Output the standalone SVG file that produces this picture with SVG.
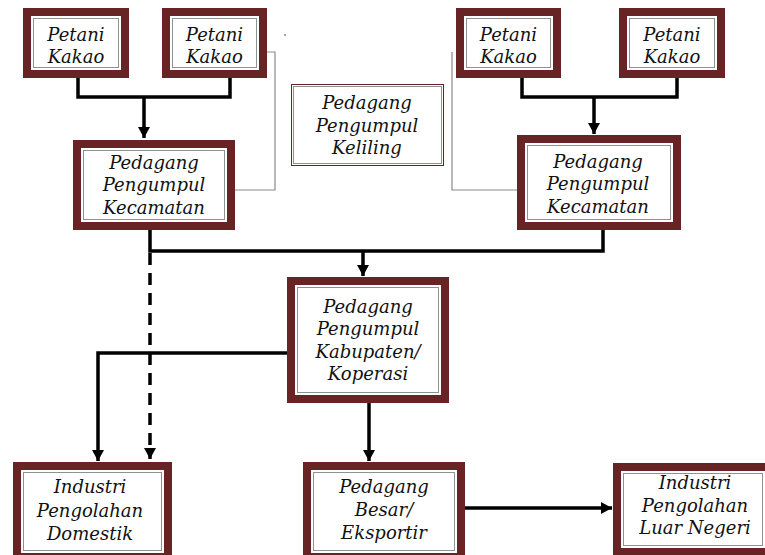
<svg xmlns="http://www.w3.org/2000/svg" width="765" height="555" viewBox="0 0 765 555">
<defs>
<style>
.ob{fill:#fff;stroke:#682424;stroke-width:7}
.ib{fill:none;stroke:#682424;stroke-width:1}
.db{fill:none;stroke:#222;stroke-width:1;stroke-dasharray:1 1}
.t{font-family:"DejaVu Serif","Liberation Serif",serif;font-style:italic;font-size:18px;fill:#111;text-anchor:middle}
.c{fill:none;stroke:#000;stroke-width:3.5}
.g{fill:none;stroke:#8a8a8a;stroke-width:1.2}
</style>
<marker id="ah" markerUnits="userSpaceOnUse" markerWidth="14" markerHeight="14" viewBox="0 0 14 14" refX="12" refY="7" orient="auto">
<path d="M1,1 L12,7 L1,13 Z" fill="#000"/>
</marker>
</defs>
<g id="connectors">
<path class="c" d="M78,78 V97 H230 V78"/>
<path class="c" d="M144,97 V138" marker-end="url(#ah)"/>
<path class="c" d="M522,78 V97 H677 V78"/>
<path class="c" d="M594,97 V134" marker-end="url(#ah)"/>
<path class="g" d="M267,52 H275 V190 H235"/>
<path class="g" d="M452,52 V190 H517"/>
<path class="c" d="M150,230 V251 H603 V230"/>
<path class="c" d="M363,251 V276" marker-end="url(#ah)"/>
<path class="c" d="M287,353 H98 V461" marker-end="url(#ah)"/>
<path class="c" d="M150,253 V459" stroke-dasharray="12 8" marker-end="url(#ah)"/>
<path class="c" d="M369,403 V461" marker-end="url(#ah)"/>
<path class="c" d="M465,508 H612" marker-end="url(#ah)"/>
</g>
<circle cx="285" cy="35" r="0.8" fill="#333"/>
<g id="pk1">
<rect class="ob" x="26.5" y="11.5" width="99" height="63"/>
<rect class="ib" x="30.5" y="15.5" width="91" height="55"/>
<rect class="db" x="33.5" y="18.5" width="85" height="49"/>
<text class="t" x="76" y="41">Petani</text>
<text class="t" x="76" y="63">Kakao</text>
</g>
<g id="pk2">
<rect class="ob" x="165.5" y="11.5" width="98" height="63"/>
<rect class="ib" x="169.5" y="15.5" width="90" height="55"/>
<rect class="db" x="172.5" y="18.5" width="84" height="49"/>
<text class="t" x="214.5" y="41">Petani</text>
<text class="t" x="214.5" y="63">Kakao</text>
</g>
<g id="pk3">
<rect class="ob" x="459.5" y="11.5" width="98" height="63"/>
<rect class="ib" x="463.5" y="15.5" width="90" height="55"/>
<rect class="db" x="466.5" y="18.5" width="84" height="49"/>
<text class="t" x="508.5" y="41">Petani</text>
<text class="t" x="508.5" y="63">Kakao</text>
</g>
<g id="pk4">
<rect class="ob" x="622.5" y="11.5" width="99" height="63"/>
<rect class="ib" x="626.5" y="15.5" width="91" height="55"/>
<rect class="db" x="629.5" y="18.5" width="85" height="49"/>
<text class="t" x="672" y="41">Petani</text>
<text class="t" x="672" y="63">Kakao</text>
</g>
<g id="kec1">
<rect class="ob" x="76.5" y="143.5" width="155" height="83"/>
<rect class="ib" x="80.5" y="147.5" width="147" height="75"/>
<rect class="db" x="83.5" y="150.5" width="141" height="69"/>
<text class="t" x="154" y="169">Pedagang</text>
<text class="t" x="154" y="191">Pengumpul</text>
<text class="t" x="154" y="214">Kecamatan</text>
</g>
<g id="keliling">
<rect class="ib" x="291.5" y="84.5" width="152" height="81"/>
<rect class="db" x="293.5" y="86.5" width="148" height="77"/>
<text class="t" x="367" y="109">Pedagang</text>
<text class="t" x="367" y="132">Pengumpul</text>
<text class="t" x="367" y="154">Keliling</text>
</g>
<g id="kec2">
<rect class="ob" x="520.5" y="138.5" width="157" height="88"/>
<rect class="ib" x="524.5" y="142.5" width="149" height="80"/>
<rect class="db" x="527.5" y="145.5" width="143" height="74"/>
<text class="t" x="598" y="168">Pedagang</text>
<text class="t" x="598" y="190">Pengumpul</text>
<text class="t" x="598" y="213">Kecamatan</text>
</g>
<g id="kab">
<rect class="ob" x="290.5" y="280.5" width="155" height="119"/>
<rect class="ib" x="294.5" y="284.5" width="147" height="111"/>
<rect class="db" x="297.5" y="287.5" width="141" height="105"/>
<text class="t" x="368" y="313">Pedagang</text>
<text class="t" x="368" y="335">Pengumpul</text>
<text class="t" x="368" y="358">Kabupaten/</text>
<text class="t" x="368" y="380">Koperasi</text>
</g>
<g id="dom">
<rect class="ob" x="16.5" y="465.5" width="152" height="92"/>
<rect class="ib" x="20.5" y="469.5" width="144" height="84"/>
<rect class="db" x="23.5" y="472.5" width="138" height="78"/>
<text class="t" x="90" y="493">Industri</text>
<text class="t" x="90" y="517">Pengolahan</text>
<text class="t" x="90" y="540">Domestik</text>
</g>
<g id="besar">
<rect class="ob" x="306.5" y="465.5" width="155" height="92"/>
<rect class="ib" x="310.5" y="469.5" width="147" height="84"/>
<rect class="db" x="313.5" y="472.5" width="141" height="78"/>
<text class="t" x="384" y="493">Pedagang</text>
<text class="t" x="384" y="516">Besar/</text>
<text class="t" x="384" y="539">Eksportir</text>
</g>
<g id="luar">
<rect class="ob" x="616.5" y="466.5" width="153" height="86"/>
<rect class="ib" x="620.5" y="470.5" width="145" height="78"/>
<rect class="db" x="623.5" y="473.5" width="139" height="72"/>
<text class="t" x="695" y="489">Industri</text>
<text class="t" x="695" y="512">Pengolahan</text>
<text class="t" x="695" y="534">Luar Negeri</text>
</g>
</svg>
